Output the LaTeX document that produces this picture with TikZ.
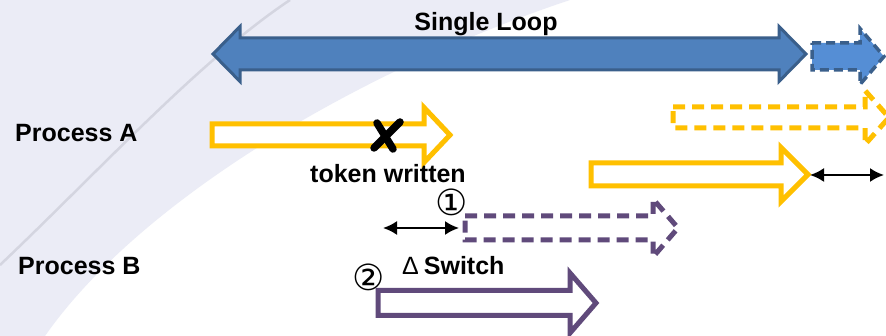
\documentclass[tikz,border=0pt]{standalone}
\usepackage{fontspec}
\setmainfont{Liberation Sans}
\newfontfamily\circfont{DejaVu Sans}
\usetikzlibrary{arrows.meta}

\definecolor{bglav}{RGB}{235,236,246}
\definecolor{bgline}{RGB}{212,213,224}
\definecolor{loopfill}{RGB}{79,129,189}
\definecolor{loopdash}{RGB}{85,142,213}
\definecolor{loopedge}{RGB}{58,95,139}
\definecolor{procA}{RGB}{255,192,0}
\definecolor{procB}{RGB}{96,74,123}

% block arrow: #1 style, #2 tail x, #3 tip x, #4 centre y,
% #5 shaft half height, #6 head half height, #7 head length
\newcommand{\blockarr}[7]{%
  \draw[#1] (#2,{#4-#5}) -- ({#3-#7},{#4-#5}) -- ({#3-#7},{#4-#6})
    -- (#3,#4) -- ({#3-#7},{#4+#6}) -- ({#3-#7},{#4+#5})
    -- (#2,{#4+#5}) -- cycle;}

\begin{document}
\begin{tikzpicture}[x=1pt,y=-1pt,
  lbl/.style={font=\bfseries\fontsize{25}{28}\selectfont, inner sep=0pt},
  circnum/.style={font=\circfont\fontsize{36}{40}\selectfont, inner sep=0pt},
  yellowbox/.style={draw=procA, fill=white, line width=5pt, line join=miter},
  purplebox/.style={draw=procB, fill=white, line width=5pt, line join=miter},
  dashedbox/.style={dash pattern=on 12pt off 7pt},
  gap/.style={black, line width=2pt, {Latex[length=14pt,width=14pt]}-{Latex[length=14pt,width=14pt]}}]

% background
\useasboundingbox (0,0) rectangle (886,336);
\fill[white] (0,0) rectangle (886,336);
\fill[bglav] (0,0) -- (570,0) .. controls (360,70) and (140,200) .. (45,336) -- (0,336) -- cycle;
\draw[bgline, line width=2.5pt] (290,0) .. controls (200,60) and (100,170) .. (0,265);
\clip (0,0) rectangle (886,336);

% single loop
\draw[fill=loopfill, draw=loopedge, line width=3pt, line join=miter]
  (213,54) -- (240,26.5) -- (240,38) -- (779,38) -- (779,26.5) -- (806,54)
  -- (779,81.5) -- (779,70) -- (240,70) -- (240,81.5) -- cycle;
\blockarr{fill=loopdash, draw=loopedge, line width=3.5pt, dash pattern=on 9pt off 5pt}{812}{884}{56.5}{13.5}{28}{24}
\node[lbl, anchor=base] (loop) at (486,31) {Single Loop};

% process A
\node[lbl, anchor=base west] (pa) at (15,142) {Process A};
\blockarr{yellowbox}{212}{450}{135}{11}{27.5}{26}
\draw[black, line width=7.5pt, line cap=round] (377,123) -- (393,149);
\draw[black, line width=7.5pt, line cap=round] (400,122) -- (374,148);
\node[lbl, anchor=base] (tw) at (388,183) {token written};
\blockarr{yellowbox, dashedbox}{673}{889}{117.5}{10.5}{27}{24}
\blockarr{yellowbox}{591}{808}{174.5}{11.5}{27}{27}
\coordinate (atip) at (810,175);
\coordinate (aend) at (884,175);
\draw[gap] (atip) -- (aend);

% process B
\node[lbl, anchor=base west] (pb) at (18,275) {Process B};
\blockarr{purplebox, dashedbox}{465}{678}{228}{12}{29}{25}
\coordinate (bstart) at (383,228);
\coordinate (btail) at (459,228);
\draw[gap] (bstart) -- (btail);
\node[circnum] (n1) at (452,202) {①};
\node[lbl, anchor=base west] (sw) at (402,275) {\mdseries Δ\kern5pt\bfseries Switch};
\node[circnum] (n2) at (369,277) {②};
\blockarr{purplebox}{378}{596}{303}{12.5}{30}{26}
\end{tikzpicture}
\end{document}
